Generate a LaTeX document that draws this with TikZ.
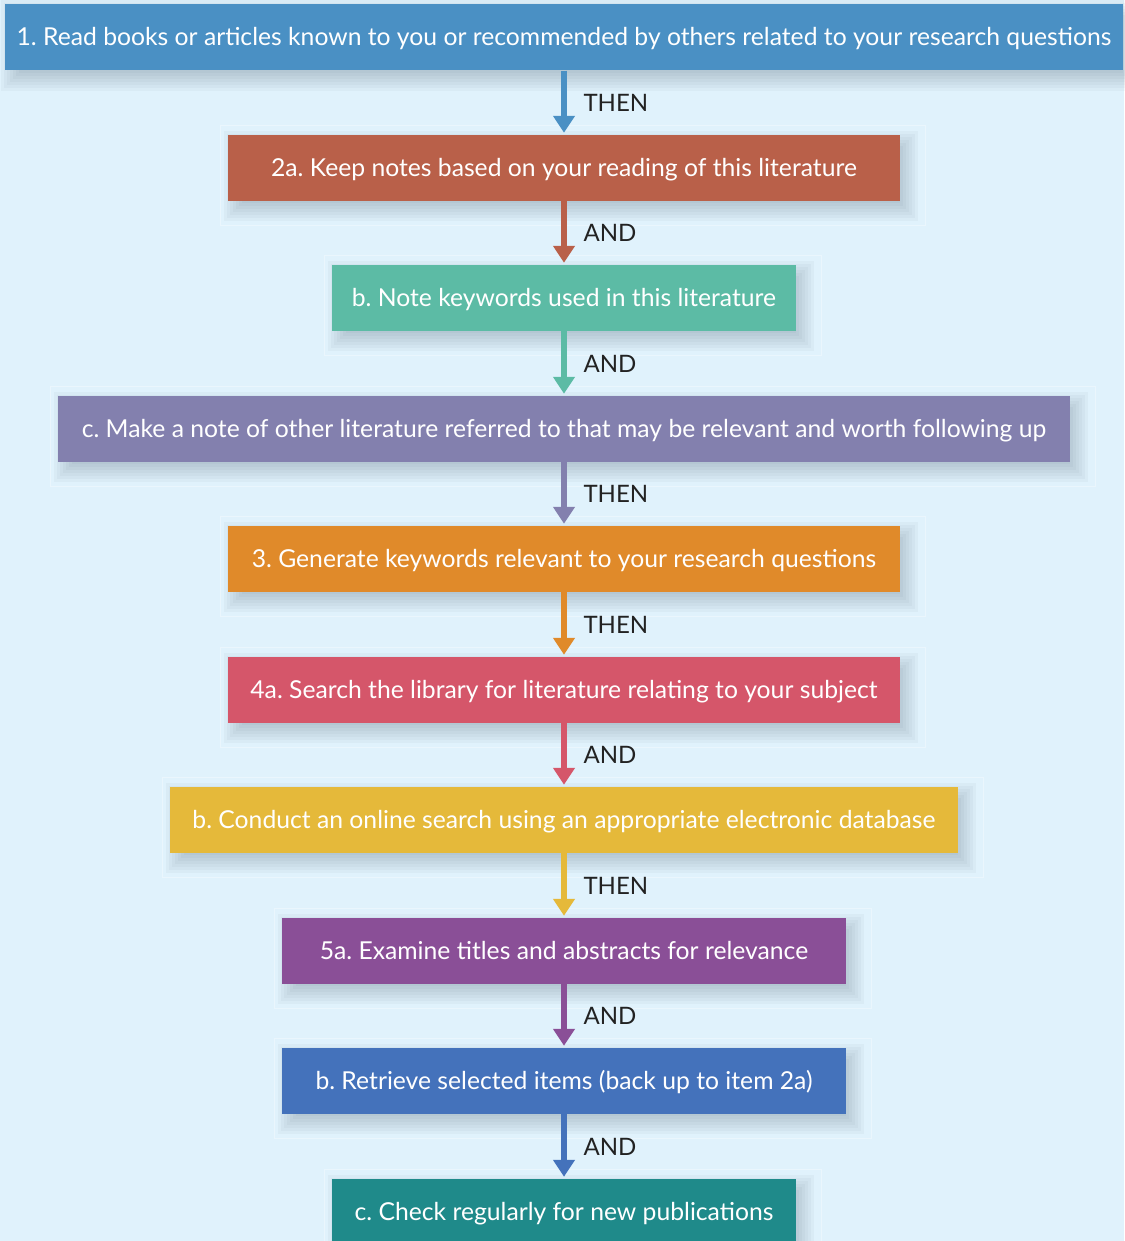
\documentclass[tikz,border=0pt]{standalone}
\usepackage{fontspec}
\setmainfont{Lato}
\frenchspacing
\usetikzlibrary{arrows.meta}
\pgfdeclarelayer{background}
\pgfdeclarelayer{shadow}
\pgfsetlayers{background,shadow,main}
\definecolor{bg}{HTML}{E0F2FC}
\definecolor{shd}{HTML}{2A3F50}
\definecolor{cA}{HTML}{4A90C4}
\definecolor{cB}{HTML}{B96049}
\definecolor{cC}{HTML}{5CBBA5}
\definecolor{cD}{HTML}{8380AE}
\definecolor{cE}{HTML}{E08A2A}
\definecolor{cF}{HTML}{D5566A}
\definecolor{cG}{HTML}{E5B93A}
\definecolor{cH}{HTML}{8A4F97}
\definecolor{cI}{HTML}{4472BB}
\definecolor{cJ}{HTML}{1F8A8A}
\definecolor{lbl}{HTML}{222222}
\tikzset{
  stepbox/.style={rectangle, minimum height=66pt, inner sep=0pt, text=white,
    text height=19pt, text depth=2pt,
    font=\fontsize{24.7}{28}\selectfont},
  conn/.style={line width=6pt, -{Triangle[width=21pt,length=17pt]}, shorten >=2pt},
  lab/.style={anchor=west, text=lbl, font=\fontsize{24}{28}\selectfont},
  frame/.style={draw=white, opacity=0.35, line width=0.8pt}
}
\begin{document}
\begin{tikzpicture}[x=1pt,y=-1pt]
\useasboundingbox (0,0) rectangle (1124,1241);
\begin{pgfonlayer}{background}
\fill[bg] (0,0) rectangle (1124,1241);
\foreach \w/\y in {672/168, 464/298, 1012/429, 672/559, 672/690, 788/820, 564/951, 564/1081, 464/1212}{
  \draw[frame] (564-\w/2-8,\y-43) rectangle (564+\w/2+25,\y+57);
}
\end{pgfonlayer}
\node[stepbox, fill=cA, minimum width=1118pt] (n1) at (564,37.5) {1. Read books or articles known to you or recommended by others related to your research questions};
\node[stepbox, fill=cB, minimum width=672pt] (n2a) at (564,168) {2a. Keep notes based on your reading of this literature};
\node[stepbox, fill=cC, minimum width=464pt] (n2b) at (564,298) {b. Note keywords used in this literature};
\node[stepbox, fill=cD, minimum width=1012pt] (n2c) at (564,429) {c. Make a note of other literature referred to that may be relevant and worth following up};
\node[stepbox, fill=cE, minimum width=672pt] (n3) at (564,559) {3. Generate keywords relevant to your research questions};
\node[stepbox, fill=cF, minimum width=672pt] (n4a) at (564,690) {4a. Search the library for literature relating to your subject};
\node[stepbox, fill=cG, minimum width=788pt] (n4b) at (564,820) {b. Conduct an online search using an appropriate electronic database};
\node[stepbox, fill=cH, minimum width=564pt] (n5a) at (564,951) {5a. Examine titles and abstracts for relevance};
\node[stepbox, fill=cI, minimum width=564pt] (n5b) at (564,1081) {b. Retrieve selected items (back up to item 2a)};
\node[stepbox, fill=cJ, minimum width=464pt] (n5c) at (564,1212) {c. Check regularly for new publications};
% soft shadows
\begin{pgfonlayer}{shadow}
\foreach \n in {n1,n2a,n2b,n2c,n3,n4a,n4b,n5a,n5b,n5c}{
  \foreach \r in {-6,-3,...,12}{
    \fill[shd, opacity=0.035] ([xshift=6pt-\r pt+2pt, yshift=-8pt+\r pt]\n.north west) rectangle ([xshift=6pt+\r pt, yshift=-8pt-\r pt]\n.south east);
  }
}
\end{pgfonlayer}
% connectors
\draw[conn, cA] (n1.south) -- (n2a.north);
\draw[conn, cB] (n2a.south) -- (n2b.north);
\draw[conn, cC] (n2b.south) -- (n2c.north);
\draw[conn, cD] (n2c.south) -- (n3.north);
\draw[conn, cE] (n3.south) -- (n4a.north);
\draw[conn, cF] (n4a.south) -- (n4b.north);
\draw[conn, cG] (n4b.south) -- (n5a.north);
\draw[conn, cH] (n5a.south) -- (n5b.north);
\draw[conn, cI] (n5b.south) -- (n5c.north);
% labels
\node[lab] (l1) at (580,103) {THEN};
\node[lab] (l2) at (580,233) {AND};
\node[lab] (l3) at (580,364) {AND};
\node[lab] (l4) at (580,494) {THEN};
\node[lab] (l5) at (580,625) {THEN};
\node[lab] (l6) at (580,755) {AND};
\node[lab] (l7) at (580,886) {THEN};
\node[lab] (l8) at (580,1016) {AND};
\node[lab] (l9) at (580,1147) {AND};
\end{tikzpicture}
\end{document}
